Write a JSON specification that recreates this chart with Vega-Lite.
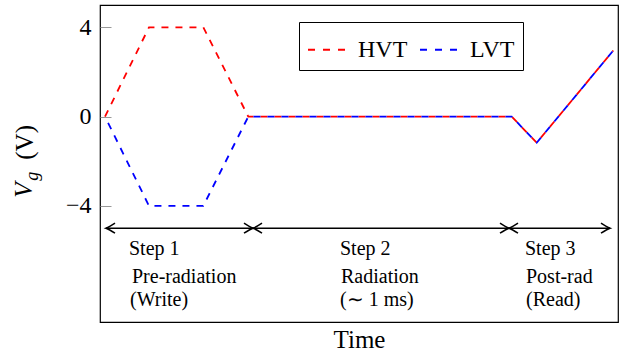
{
  "$schema": "https://vega.github.io/schema/vega-lite/v6.json",
  "width": 518,
  "height": 317,
  "autosize": {"type": "none"},
  "padding": {"left": 100, "top": 5, "right": 14, "bottom": 34},
  "config": {
    "font": "Liberation Serif, Times New Roman, serif",
    "view": {"stroke": "#000000", "strokeWidth": 1.2},
    "legend": {
      "orient": "none",
      "legendX": 199,
      "legendY": 17,
      "direction": "horizontal",
      "title": null,
      "symbolType": "stroke",
      "symbolSize": 1369,
      "symbolStrokeWidth": 2,
      "symbolDash": [7, 8],
      "labelFont": "Liberation Serif, Times New Roman, serif",
      "labelFontSize": 24,
      "labelColor": "#000000",
      "labelOffset": 12,
      "columnPadding": 8,
      "padding": 8,
      "strokeColor": "#000000",
      "fillColor": "#ffffff",
      "cornerRadius": 0
    }
  },
  "datasets": {
    "lines": [
      {"series": "HVT", "t": 5, "v": 0},
      {"series": "HVT", "t": 49, "v": 4},
      {"series": "HVT", "t": 103.3, "v": 4},
      {"series": "HVT", "t": 148.3, "v": 0},
      {"series": "HVT", "t": 411.7, "v": 0},
      {"series": "HVT", "t": 436.7, "v": -1.17},
      {"series": "HVT", "t": 513.3, "v": 2.96},
      {"series": "LVT", "t": 5, "v": 0},
      {"series": "LVT", "t": 49, "v": -4},
      {"series": "LVT", "t": 103.3, "v": -4},
      {"series": "LVT", "t": 148.3, "v": 0},
      {"series": "LVT", "t": 411.7, "v": 0},
      {"series": "LVT", "t": 436.7, "v": -1.17},
      {"series": "LVT", "t": 513.3, "v": 2.96}
    ],
    "arrows": [
      {"t": 6, "end": 153, "v": -5},
      {"t": 153, "end": 409, "v": -5},
      {"t": 409, "end": 510, "v": -5}
    ],
    "heads": [
      {"t": 6, "v": -5, "dir": "left"},
      {"t": 153, "v": -5, "dir": "right"},
      {"t": 153, "v": -5, "dir": "left"},
      {"t": 409, "v": -5, "dir": "right"},
      {"t": 409, "v": -5, "dir": "left"},
      {"t": 510, "v": -5, "dir": "right"}
    ],
    "steps": [
      {"label": "Step 1", "t": 29, "v": -6.2},
      {"label": "Pre-radiation", "t": 32, "v": -7.45},
      {"label": "(Write)", "t": 30, "v": -8.5},
      {"label": "Step 2", "t": 240, "v": -6.2},
      {"label": "Radiation", "t": 241, "v": -7.45},
      {"label": "(∼ 1 ms)", "t": 240, "v": -8.5},
      {"label": "Step 3", "t": 425, "v": -6.2},
      {"label": "Post-rad", "t": 426, "v": -7.45},
      {"label": "(Read)", "t": 426, "v": -8.5}
    ],
    "ytitle": [
      {"part": "V", "t": -68, "v": -3.63},
      {"part": "g", "t": -62, "v": -2.87},
      {"part": "(V)", "t": -67, "v": -1.93}
    ]
  },
  "encoding": {
    "x": {
      "field": "t", "type": "quantitative",
      "scale": {"domain": [0, 518], "nice": false, "zero": false},
      "axis": {
        "title": "Time", "ticks": false, "labels": false, "domain": false, "grid": false,
        "titleFont": "Liberation Serif, Times New Roman, serif", "titleFontSize": 25, "titleFontWeight": "normal",
        "titleColor": "#000000", "titleBaseline": "alphabetic", "titleY": 25
      }
    },
    "y": {
      "field": "v", "type": "quantitative",
      "scale": {"domain": [-9.2, 5], "nice": false, "zero": false},
      "axis": {
        "title": null, "values": [-4, 0, 4], "grid": false, "domain": false,
        "tickSize": -11, "tickColor": "#999999", "tickWidth": 1,
        "labelPadding": 20, "labelFont": "Liberation Serif, Times New Roman, serif", "labelFontSize": 24,
        "labelColor": "#000000",
        "labelExpr": "replace(datum.label, '-', '−')"
      }
    }
  },
  "layer": [
    {
      "data": {"name": "lines"},
      "transform": [{"filter": "datum.series === 'HVT'"}],
      "mark": {"type": "line", "strokeDash": [7, 7], "strokeWidth": 1.8},
      "encoding": {
        "color": {
          "field": "series", "type": "nominal",
          "scale": {"domain": ["HVT", "LVT"], "range": ["#ff0000", "#0000ff"]}
        }
      }
    },
    {
      "data": {"name": "lines"},
      "transform": [{"filter": "datum.series === 'LVT'"}],
      "mark": {"type": "line", "strokeDash": [7, 7], "strokeDashOffset": 7, "strokeWidth": 1.8},
      "encoding": {
        "color": {"field": "series", "type": "nominal"}
      }
    },
    {
      "data": {"name": "arrows"},
      "mark": {"type": "rule", "color": "#000000", "strokeWidth": 1.6},
      "encoding": {
        "x2": {"field": "end"}
      }
    },
    {
      "data": {"name": "heads"},
      "mark": {"type": "point", "filled": false, "stroke": "#000000", "strokeWidth": 1.5, "size": 100, "opacity": 1},
      "encoding": {
        "shape": {
          "field": "dir", "type": "nominal", "legend": null,
          "scale": {
            "domain": ["left", "right"],
            "range": ["M 1.8 -1 Q 0.6 -0.2 0 0 Q 0.6 0.2 1.8 1", "M -1.8 -1 Q -0.6 -0.2 0 0 Q -0.6 0.2 -1.8 1"]
          }
        }
      }
    },
    {
      "data": {"name": "steps"},
      "mark": {"type": "text", "align": "left", "baseline": "alphabetic", "fontSize": 20, "color": "#000000"},
      "encoding": {
        "text": {"field": "label"}
      }
    },
    {
      "data": {"name": "ytitle"},
      "transform": [{"filter": "datum.part === 'V'"}],
      "mark": {"type": "text", "align": "left", "baseline": "alphabetic", "angle": 270, "fontSize": 25, "fontStyle": "italic", "color": "#000000"},
      "encoding": {
        "text": {"field": "part"}
      }
    },
    {
      "data": {"name": "ytitle"},
      "transform": [{"filter": "datum.part === 'g'"}],
      "mark": {"type": "text", "align": "left", "baseline": "alphabetic", "angle": 270, "fontSize": 18, "fontStyle": "italic", "color": "#000000"},
      "encoding": {
        "text": {"field": "part"}
      }
    },
    {
      "data": {"name": "ytitle"},
      "transform": [{"filter": "datum.part === '(V)'"}],
      "mark": {"type": "text", "align": "left", "baseline": "alphabetic", "angle": 270, "fontSize": 25, "color": "#000000"},
      "encoding": {
        "text": {"field": "part"}
      }
    }
  ]
}
